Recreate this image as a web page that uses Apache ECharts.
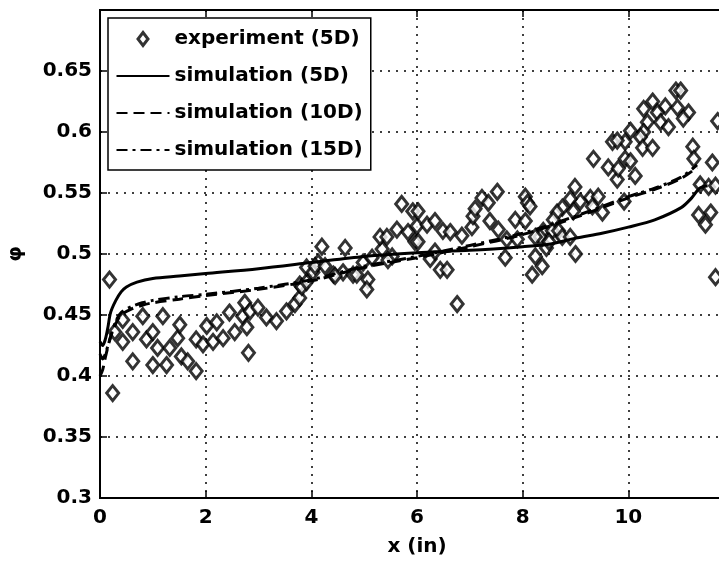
<!DOCTYPE html>
<html>
<head>
<meta charset="utf-8">
<script src="https://cdn.jsdelivr.net/npm/echarts@6/dist/echarts.min.js"></script>
<style>
html,body{margin:0;padding:0;background:#fff;}
#main{width:719px;height:568px;}
</style>
</head>
<body>
<div id="main"></div>
<script>
// experiment (5D): [x, phi]
var expPoints = [
    [0.18,0.479],[0.24,0.386],[0.28,0.436],[0.43,0.446],[0.43,0.428],[0.62,0.436],[0.62,0.412],
    [0.81,0.449],[0.88,0.430],[1.0,0.436],[1.0,0.409],[1.09,0.423],[1.19,0.449],[1.26,0.409],
    [1.32,0.423],[1.47,0.431],[1.51,0.442],[1.54,0.416],[1.66,0.412],[1.82,0.404],[1.82,0.430],
    [1.95,0.426],[2.02,0.441],[2.14,0.428],[2.21,0.444],[2.33,0.431],[2.45,0.452],[2.55,0.436],
    [2.70,0.449],[2.74,0.460],[2.78,0.440],[2.81,0.419],[2.84,0.453],[2.99,0.456],[3.15,0.448],
    [3.34,0.445],[3.53,0.453],[3.69,0.459],[3.78,0.464],[3.78,0.475],[3.82,0.473],[3.91,0.477],
    [3.91,0.489],[4.03,0.485],[4.13,0.493],[4.20,0.506],[4.64,0.505],[4.07,0.490],[4.26,0.490],
    [4.42,0.483],[4.60,0.485],[4.79,0.483],[4.98,0.493],[5.07,0.479],[5.05,0.471],[5.34,0.504],
    [5.53,0.498],[5.30,0.514],[5.43,0.514],[5.62,0.520],[5.71,0.541],[5.83,0.518],[5.92,0.535],
    [5.96,0.510],[6.00,0.523],[4.45,0.482],[4.86,0.483],[5.15,0.497],[5.45,0.495],
    [6.02,0.535],[6.19,0.524],[6.34,0.527],[6.49,0.519],[6.63,0.518],[6.85,0.515],[7.04,0.522],
    [7.06,0.531],[7.10,0.537],[7.23,0.546],[7.35,0.542],[7.38,0.527],[7.52,0.551],[7.54,0.520],
    [7.86,0.528],[8.05,0.527],[8.05,0.547],[8.09,0.542],[7.67,0.497],[6.25,0.496],[6.44,0.487],
    [6.57,0.487],[6.34,0.502],[6.76,0.459],[6.02,0.510],[7.70,0.512],[7.90,0.512],
    [8.14,0.539],[8.99,0.555],[9.28,0.546],[9.43,0.547],[9.51,0.534],[9.32,0.539],[9.09,0.543],
    [8.90,0.545],[8.75,0.538],[8.65,0.534],[8.58,0.528],[8.96,0.535],[8.39,0.519],[8.56,0.519],
    [8.68,0.519],[8.75,0.514],[8.90,0.514],[8.33,0.514],[8.24,0.514],[8.24,0.498],[8.37,0.490],
    [8.18,0.483],[9.00,0.500],[9.34,0.578],[9.62,0.571],[9.70,0.592],[9.79,0.561],[8.45,0.505],
    [8.50,0.510],[10.90,0.634],[10.99,0.634],[10.29,0.619],[10.46,0.625],[10.70,0.621],[10.55,0.616],
    [10.61,0.608],[10.76,0.604],[10.93,0.620],[11.14,0.616],[11.04,0.611],[10.36,0.608],[10.29,0.600],
    [10.23,0.596],[10.04,0.601],[9.94,0.592],[9.79,0.593],[10.27,0.587],[10.46,0.587],[9.94,0.578],
    [10.04,0.576],[9.81,0.570],[10.13,0.564],[9.92,0.543],[11.22,0.588],[11.24,0.578],[11.69,0.609],
    [11.59,0.575],[11.36,0.557],[11.52,0.555],[11.65,0.556],[11.33,0.532],[11.56,0.534],[11.46,0.524],
    [11.65,0.481]
];

var sim5X = [0,0.05,0.1,0.15,0.2,0.3,0.4,0.5,0.7,1,1.5,2,3,4,5,6,7,8,8.5,9,9.5,10,10.5,11,11.2,11.35,11.5];
var sim5Y = [0.428,0.425,0.43,0.44,0.452,0.462,0.469,0.473,0.477,0.480,0.482,0.484,0.488,0.493,0.498,0.501,0.503,0.506,0.508,0.513,0.517,0.522,0.528,0.538,0.546,0.554,0.556];

var sim10X = [0,0.05,0.1,0.2,0.3,0.4,0.6,0.8,1,1.5,2,3,4,5,6,7,8,9,10,10.5,11,11.3];
var sim10Y = [0.400,0.405,0.415,0.432,0.443,0.450,0.455,0.458,0.460,0.463,0.466,0.471,0.478,0.489,0.497,0.506,0.516,0.530,0.546,0.553,0.562,0.571];

var sim15X = [0,0.05,0.1,0.2,0.3,0.4,0.6,0.8,1,1.5,2,3,4,5,6,7,8,9,10,10.5,11,11.3];
var sim15Y = [0.418,0.414,0.418,0.432,0.445,0.452,0.457,0.460,0.462,0.465,0.467,0.472,0.479,0.490,0.498,0.507,0.517,0.531,0.547,0.554,0.563,0.573];

var names = ['experiment (5D)','simulation (5D)','simulation (10D)','simulation (15D)'];

function pairs(xs, ys) {
    var out = [];
    for (var i = 0; i < xs.length; i++) out.push([xs[i], ys[i]]);
    return out;
}

var font = {fontFamily: 'DejaVu Sans', fontWeight: 'bold', fontSize: 20, color: '#000'};
var dotted = {color: '#000', width: 1.5, type: [2, 6]};
var noDot = {color: 'rgba(0,0,0,0)', borderColor: 'rgba(0,0,0,0)', borderWidth: 0};
// diamond centred in a 53x14 box (moveTo corners fix the box so it is not stretched)
var diamondIcon = 'path://M0,0M53,14M26.5,0.5L31.5,7L26.5,13.5L21.5,7Z';

var myChart = echarts.init(document.getElementById('main'));
var option = {
    backgroundColor: '#fff',
    animation: false,
    grid: {
        left: 100, top: 10, width: 634, height: 488,
        outerBoundsMode: 'none',
        show: true, borderColor: '#000', borderWidth: 2
    },
    legend: {
        orient: 'vertical',
        left: 108, top: 18,
        padding: [11, 8, 10, 7],
        itemGap: 17,
        itemWidth: 53,
        itemHeight: 14,
        backgroundColor: '#fff',
        borderColor: '#000',
        borderWidth: 1.5,
        borderRadius: 0,
        textStyle: font,
        data: [
            {name: names[0], icon: diamondIcon, itemStyle: {color: '#fff', borderColor: '#000', borderWidth: 3}},
            {name: names[1], itemStyle: noDot},
            {name: names[2], itemStyle: noDot},
            {name: names[3], itemStyle: noDot}
        ]
    },
    xAxis: [{
        type: 'value', min: 0, max: 12, interval: 2,
        name: 'x (in)', nameLocation: 'middle', nameGap: 39,
        nameTextStyle: font,
        axisLine: {lineStyle: {color: '#000', width: 2}},
        axisTick: {inside: true, length: 7, lineStyle: {color: '#000', width: 1.5}},
        axisLabel: Object.assign({margin: 10}, font),
        splitLine: {show: true, lineStyle: dotted}
    }, {
        type: 'value', min: 0, max: 12, interval: 2, position: 'top',
        axisLine: {show: false},
        axisTick: {inside: true, length: 7, lineStyle: {color: '#000', width: 1.5}},
        axisLabel: {show: false},
        splitLine: {show: false}
    }],
    yAxis: {
        type: 'value', min: 0.3, max: 0.7, interval: 0.05,
        name: 'φ', nameLocation: 'middle', nameGap: 74, nameRotate: 90,
        nameTextStyle: font,
        axisLine: {lineStyle: {color: '#000', width: 2}},
        axisTick: {inside: true, length: 7, lineStyle: {color: '#000', width: 1.5}},
        axisLabel: Object.assign({
            margin: 8,
            formatter: function (v) { return v > 0.69 ? '' : String(+v.toFixed(2)); }
        }, font),
        splitLine: {show: true, lineStyle: dotted}
    },
    series: [
        {
            name: names[0],
            type: 'scatter',
            symbol: 'diamond',
            symbolSize: [12, 15],
            itemStyle: {color: '#fff', borderColor: '#000', borderWidth: 3},
            data: expPoints,
            z: 3
        },
        {
            name: names[1],
            type: 'line',
            smooth: 0.3,
            symbol: 'none',
            lineStyle: {color: '#000', width: 3},
            data: pairs(sim5X, sim5Y),
            z: 4
        },
        {
            name: names[2],
            type: 'line',
            smooth: 0.3,
            symbol: 'none',
            lineStyle: {color: '#000', width: 3, type: [11, 6]},
            data: pairs(sim10X, sim10Y),
            z: 4
        },
        {
            name: names[3],
            type: 'line',
            smooth: 0.3,
            symbol: 'none',
            lineStyle: {color: '#000', width: 3, type: [11, 5, 3, 5]},
            data: pairs(sim15X, sim15Y),
            z: 4
        }
    ]
};
myChart.setOption(option, true);
</script>
</body>
</html>
